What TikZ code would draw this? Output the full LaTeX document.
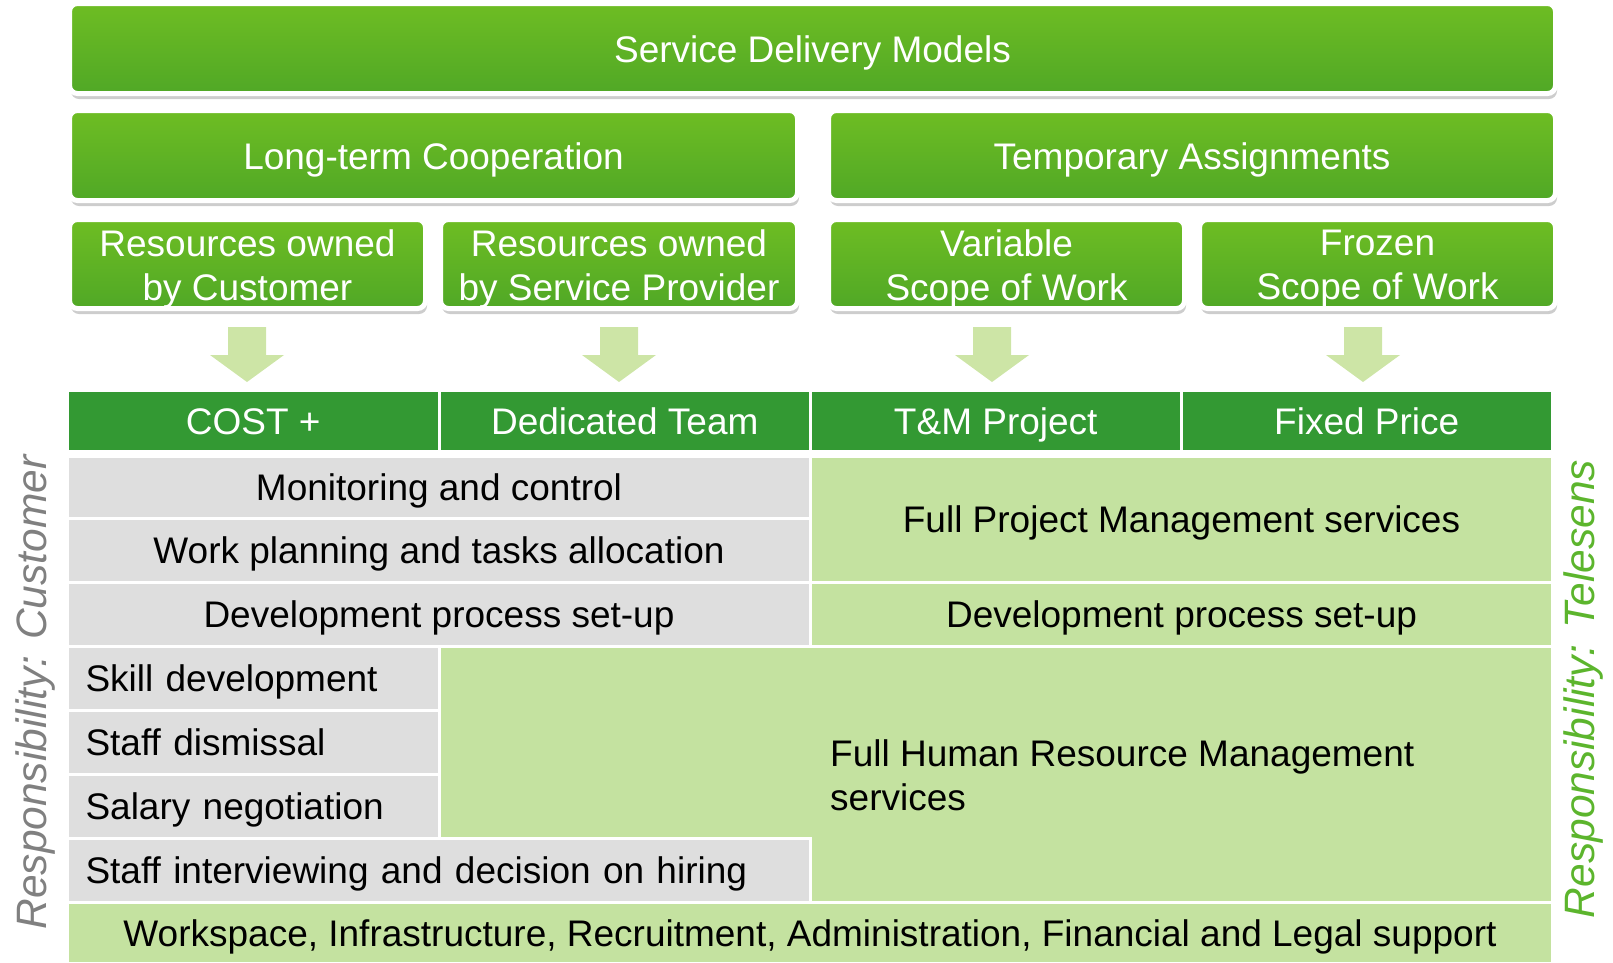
\documentclass[tikz,border=0pt]{standalone}
\usepackage{fontspec}
\setmainfont{Liberation Sans}
\usetikzlibrary{shadows,calc}
\definecolor{gtop}{RGB}{110,189,35}
\definecolor{gbot}{RGB}{80,168,38}
\definecolor{hdr}{RGB}{51,153,51}
\definecolor{lgreen}{RGB}{196,226,160}
\definecolor{lgray}{RGB}{222,222,222}
\definecolor{arrowgreen}{RGB}{205,229,166}
\definecolor{sidegray}{RGB}{128,128,128}
\definecolor{sidegreen}{RGB}{92,181,45}
\begin{document}
\begin{tikzpicture}[x=1pt,y=-1pt,
  txt/.style={font=\fontsize{37}{44}\selectfont},
  oneline/.style={text height=32pt, text depth=6pt},
  gbox/.style={rectangle, rounded corners=8pt, draw=white, line width=5pt,
    top color=gtop, bottom color=gbot,
    inner sep=0pt, outer sep=0pt,
    drop shadow={shadow xshift=1.5pt, shadow yshift=-5.5pt, opacity=0.28, fill=black!70}},
  gtext/.style={txt, text=white, align=center, inner sep=0pt},
  hcell/.style={rectangle, fill=hdr, draw=white, line width=3pt, text=white, txt, oneline,
    inner sep=0pt, outer sep=0pt, anchor=north west},
  bcell/.style={rectangle, draw=white, line width=3pt, text=black, txt, oneline,
    inner sep=0pt, outer sep=0pt, anchor=north west},
  graycell/.style={bcell, fill=lgray},
  greencell/.style={bcell, fill=lgreen},
  lefttext/.style={inner xsep=18pt, align=left},
  sidelabel/.style={rotate=90, font=\fontsize{42.5}{50}\selectfont\itshape, inner sep=0pt}
]
\useasboundingbox (0,0) rectangle (1613,962);

% top boxes
\node[gbox, minimum width=1486pt, minimum height=90pt] (sdm) at (812.5,48.5) {};
\node[gbox, minimum width=728pt, minimum height=90pt] (ltc) at (433.5,155.5) {};
\node[gbox, minimum width=727pt, minimum height=90pt] (ta) at (1192,155.5) {};
\node[gbox, minimum width=356pt, minimum height=89pt] (r1) at (247.5,264) {};
\node[gbox, minimum width=357pt, minimum height=89pt] (r2) at (619,264) {};
\node[gbox, minimum width=356pt, minimum height=89pt] (r3) at (1006.5,264) {};
\node[gbox, minimum width=356pt, minimum height=89pt] (r4) at (1377.5,264) {};

\node[gtext] (sdmt) at ($(sdm.center)+(0,4.5)$) {Service Delivery Models};
\node[gtext] (ltct) at ($(ltc.center)+(0,4.5)$) {Long-term Cooperation};
\node[gtext] (tat) at ($(ta.center)+(0,4.5)$) {Temporary Assignments};
\node[gtext] (r1t) at ($(r1.center)+(0,4.5)$) {Resources owned\\by Customer};
\node[gtext] (r2t) at ($(r2.center)+(0,4.5)$) {Resources owned\\by Service Provider};
\node[gtext] (r3t) at ($(r3.center)+(0,4.5)$) {Variable\\Scope of Work};
\node[gtext] (r4t) at ($(r4.center)+(0,4.5)$) {Frozen\\Scope of Work};

% block arrows
\foreach \cx in {247,619,992,1363}{
  \fill[arrowgreen] (\cx-19,327) -- (\cx+19,327) -- (\cx+19,355) -- (\cx+37,355)
    -- (\cx,382) -- (\cx-37,355) -- (\cx-19,355) -- cycle;
}

% header row
\node[hcell, minimum width=371.5pt, minimum height=61pt] (h1) at (67.5,390.5) {COST +};
\node[hcell, minimum width=371.5pt, minimum height=61pt] (h2) at (439,390.5) {Dedicated Team};
\node[hcell, minimum width=370.5pt, minimum height=61pt] (h3) at (810.5,390.5) {T\&M Project};
\node[hcell, minimum width=371.5pt, minimum height=61pt] (h4) at (1181,390.5) {Fixed Price};

% body
\node[graycell, minimum width=743pt, minimum height=61.5pt] (mon) at (67.5,456.5) {Monitoring and control};
\node[graycell, minimum width=743pt, minimum height=64.5pt] (work) at (67.5,518) {Work planning and tasks allocation};
\node[graycell, minimum width=743pt, minimum height=63.5pt] (devl) at (67.5,582.5) {Development process set-up};
\node[greencell, minimum width=742pt, minimum height=126pt] (fpm) at (810.5,456.5) {Full Project Management services};
\node[greencell, minimum width=742pt, minimum height=63.5pt] (devr) at (810.5,582.5) {Development process set-up};

\node[greencell, minimum width=1113.5pt, minimum height=256.5pt] (hr) at (439,646) {};
\node[txt, anchor=west, align=left, inner sep=0pt] (hrtext) at (830,775) {Full Human Resource Management\\services};

\node[graycell, lefttext, minimum width=371.5pt, text width=335.5pt, minimum height=64pt] (skill) at (67.5,646) {Skill development};
\node[graycell, lefttext, minimum width=371.5pt, text width=335.5pt, minimum height=64.5pt] (dism) at (67.5,710) {Staff dismissal};
\node[graycell, lefttext, minimum width=371.5pt, text width=335.5pt, minimum height=64pt] (sal) at (67.5,774.5) {Salary negotiation};
\node[graycell, lefttext, minimum width=743pt, text width=707pt, minimum height=64pt] (interv) at (67.5,838.5) {Staff interviewing and decision on hiring};
\node[greencell, minimum width=1485pt, minimum height=61pt] (ws) at (67.5,902.5) {Workspace, Infrastructure, Recruitment, Administration, Financial and Legal support};

% side labels
\node[sidelabel, text=sidegray] (custlab) at (36,692.5) {Responsibility: Customer};
\node[sidelabel, text=sidegreen] (tellab) at (1583,689) {Responsibility: Telesens};
\end{tikzpicture}
\end{document}
